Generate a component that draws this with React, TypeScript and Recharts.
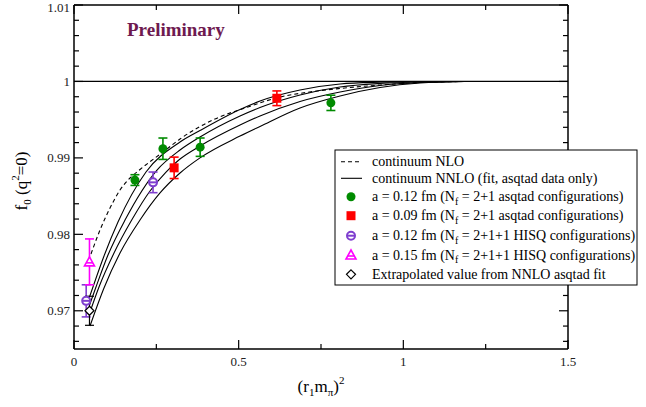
import React from "react";
import {
  ComposedChart,
  Line,
  Scatter,
  ErrorBar,
  XAxis,
  YAxis,
  ReferenceLine,
} from "recharts";

// tick values
const X_TICKS = [0, 0.5, 1, 1.5];
const X_MINOR = [0.25, 0.75, 1.25];
const Y_TICKS = [0.97, 0.98, 0.99, 1, 1.01];
const Y_MINOR = [
  0.966, 0.968, 0.972, 0.974, 0.976, 0.978, 0.982, 0.984, 0.986, 0.988, 0.992,
  0.994, 0.996, 0.998, 1.002, 1.004, 1.006, 1.008,
];

// continuum NLO (dashed)
const nloX = [0.0516, 0.079, 0.1093, 0.1397, 0.1701, 0.2004, 0.2703, 0.3219, 0.4282, 0.5284, 0.6195, 0.7258, 0.8078, 0.9293, 1.0507, 1.1874];
const nloY = [0.97743, 0.98057, 0.98344, 0.9858, 0.98737, 0.98848, 0.99077, 0.99247, 0.99509, 0.99666, 0.9979, 0.99868, 0.99908, 0.99953, 0.99986, 1.0];

// continuum NNLO fit curves (solid)
const nnloAX = [0.0471, 0.0607, 0.0911, 0.1336, 0.2186, 0.3219, 0.3826, 0.5041, 0.5648, 0.6863, 0.8078, 0.9293, 1.0507, 1.1874];
const nnloAY = [0.9718, 0.9735, 0.97716, 0.98161, 0.98815, 0.99208, 0.99358, 0.99633, 0.99744, 0.99888, 0.99967, 0.9999, 0.99998, 1.0];
const nnloBX = [0.0471, 0.0668, 0.1032, 0.1549, 0.252, 0.3219, 0.3826, 0.5041, 0.5648, 0.6863, 0.8078, 0.9293, 1.0507, 1.1874];
const nnloBY = [0.97075, 0.97311, 0.97729, 0.98187, 0.98841, 0.99103, 0.99273, 0.99548, 0.99659, 0.99823, 0.99927, 0.99973, 0.99993, 1.0];
const nnloCX = [0.0486, 0.0759, 0.1215, 0.1752, 0.2308, 0.2794, 0.3219, 0.3826, 0.5041, 0.5648, 0.6863, 0.8078, 0.9293, 1.0507, 1.1874];
const nnloCY = [0.96984, 0.97311, 0.97756, 0.98187, 0.98567, 0.98815, 0.98985, 0.99155, 0.9943, 0.99548, 0.99738, 0.99862, 0.99947, 0.99986, 1.0];
const nnloDX = [0.0486, 0.0911, 0.1397, 0.2004, 0.2612, 0.3219, 0.3826, 0.5041, 0.5648, 0.6863, 0.8078, 0.9293, 1.0507, 1.1874];
const nnloDY = [0.96801, 0.97298, 0.97756, 0.98187, 0.98541, 0.98802, 0.99, 0.99285, 0.99411, 0.99653, 0.9981, 0.99921, 0.9998, 1.0];

// data points
const asq12X = [0.185, 0.27, 0.383, 0.78];
const asq12Y = [0.9871, 0.9912, 0.9914, 0.9972];
const asq12Err = [0.0007, 0.0014, 0.0012, 0.001];
const asq09X = [0.304, 0.616];
const asq09Y = [0.9887, 0.9978];
const asq09Err = [0.0014, 0.00096];
const hisq12X = [0.037, 0.24];
const hisq12Y = [0.9713, 0.9868];
const hisq12Err = [0.0021, 0.00135];
const hisq15X = [0.047];
const hisq15Y = [0.9764];
const hisq15Err = [0.003];
const extrapX = [0.047];
const extrapY = [0.97];
const extrapErr = [0.0019];

const curve = (xs: number[], ys: number[]) => xs.map((x, i) => ({ x, y: ys[i] }));
const pts = (xs: number[], ys: number[], es: number[]) =>
  xs.map((x, i) => ({ x, y: ys[i], err: es[i] }));

const W = 646;
const H = 407;
const FONT = "'Liberation Serif', 'Times New Roman', serif";

const GREEN = "#008b00";
const RED = "#ff0000";
const PURPLE = "#7f3fcf";
const MAGENTA = "#ff00ff";

const isMajor = (list: number[], v: number) => list.some((t) => Math.abs(t - v) < 1e-9);

const BottomTick = (p: any) => {
  const major = isMajor(X_TICKS, p.payload.value);
  return (
    <g>
      <line x1={p.x} x2={p.x} y1={p.y} y2={p.y - (major ? 9 : 5)} stroke="#000" strokeWidth={1.2} />
      {major && (
        <text x={p.x} y={p.y + 16.5} textAnchor="middle" fontSize={13} fontFamily={FONT} fill="#222">
          {String(p.payload.value)}
        </text>
      )}
    </g>
  );
};
const TopTick = (p: any) => {
  const major = isMajor(X_TICKS, p.payload.value);
  return <line x1={p.x} x2={p.x} y1={p.y} y2={p.y + (major ? 9 : 5)} stroke="#000" strokeWidth={1.2} />;
};
const LeftTick = (p: any) => {
  const major = isMajor(Y_TICKS, p.payload.value);
  return (
    <g>
      <line x1={p.x} x2={p.x + (major ? 9 : 5)} y1={p.y} y2={p.y} stroke="#000" strokeWidth={1.2} />
      {major && (
        <text x={p.x - 4} y={Math.max(p.y + 4.5, 12)} textAnchor="end" fontSize={13} fontFamily={FONT} fill="#222">
          {String(p.payload.value)}
        </text>
      )}
    </g>
  );
};
const RightTick = (p: any) => {
  const major = isMajor(Y_TICKS, p.payload.value);
  return <line x1={p.x} x2={p.x - (major ? 9 : 5)} y1={p.y} y2={p.y} stroke="#000" strokeWidth={1.2} />;
};

const Dot = (p: any) => <circle cx={p.cx} cy={p.cy} r={4.5} fill={GREEN} />;
const Square = (p: any) => <rect x={p.cx - 4.5} y={p.cy - 4.5} width={9} height={9} fill={RED} />;
const Theta = (p: any) => (
  <g>
    <circle cx={p.cx} cy={p.cy} r={4} fill="#fff" stroke={PURPLE} strokeWidth={2} />
    <line x1={p.cx - 4} x2={p.cx + 4} y1={p.cy} y2={p.cy} stroke={PURPLE} strokeWidth={2} />
  </g>
);
const Tri = (p: any) => (
  <g>
    <path d={`M${p.cx},${p.cy - 5} L${p.cx + 5},${p.cy + 4} L${p.cx - 5},${p.cy + 4} Z`} fill="#fff" stroke={MAGENTA} strokeWidth={1.6} />
    <line x1={p.cx - 3.5} x2={p.cx + 3.5} y1={p.cy + 1} y2={p.cy + 1} stroke={MAGENTA} strokeWidth={1.6} />
  </g>
);
const Diamond = (p: any) => (
  <path d={`M${p.cx},${p.cy - 4.5} L${p.cx + 4.5},${p.cy} L${p.cx},${p.cy + 4.5} L${p.cx - 4.5},${p.cy} Z`} fill="#fff" stroke="#000" strokeWidth={1.2} />
);

const Sub = ({ children }: { children: React.ReactNode }) => (
  <>
    <tspan dy={3.5} fontSize={10}>{children}</tspan>
    <tspan dy={-3.5}> </tspan>
  </>
);

export default function App() {
  const legendRows: { y: number; sym: (cx: number, cy: number) => React.ReactNode; text: React.ReactNode }[] = [
    { y: 161.7, sym: (cx, cy) => <line x1={cx - 10} x2={cx + 11} y1={cy} y2={cy} stroke="#000" strokeWidth={1.1} strokeDasharray="4 3" />, text: "continuum NLO" },
    { y: 178.3, sym: (cx, cy) => <line x1={cx - 10} x2={cx + 11} y1={cy} y2={cy} stroke="#000" strokeWidth={1.1} />, text: "continuum NNLO (fit, asqtad data only)" },
    { y: 196.7, sym: (cx, cy) => <Dot cx={cx} cy={cy} />, text: <>a = 0.12 fm (N<Sub>f</Sub>= 2+1 asqtad configurations)</> },
    { y: 215.7, sym: (cx, cy) => <Square cx={cx} cy={cy} />, text: <>a = 0.09 fm (N<Sub>f</Sub>= 2+1 asqtad configurations)</> },
    { y: 235.7, sym: (cx, cy) => <Theta cx={cx} cy={cy} />, text: <>a = 0.12 fm (N<Sub>f</Sub>= 2+1+1 HISQ configurations)</> },
    { y: 255, sym: (cx, cy) => <Tri cx={cx} cy={cy} />, text: <>a = 0.15 fm (N<Sub>f</Sub>= 2+1+1 HISQ configurations)</> },
    { y: 274.3, sym: (cx, cy) => <Diamond cx={cx} cy={cy} />, text: "Extrapolated value from NNLO asqtad fit" },
  ];

  return (
    <div style={{ position: "absolute", left: 0, top: 0, width: W, height: H, background: "#fff" }}>
      <ComposedChart width={W} height={H} margin={{ top: 4, right: 77, bottom: 0, left: 0 }}>
        <XAxis xAxisId="t" orientation="top" type="number" dataKey="x" domain={[0, 1.5]} allowDataOverflow
          ticks={[...X_TICKS, ...X_MINOR]} interval={0} height={1} tickSize={0} tickMargin={0} tickLine={false}
          tick={TopTick} axisLine={{ stroke: "#000", strokeWidth: 1.5 }} />
        <XAxis xAxisId="b" orientation="bottom" type="number" dataKey="x" domain={[0, 1.5]} allowDataOverflow
          ticks={[...X_TICKS, ...X_MINOR]} interval={0} height={58} tickSize={0} tickMargin={0} tickLine={false}
          tick={BottomTick} axisLine={{ stroke: "#000", strokeWidth: 1.5 }} />
        <YAxis yAxisId="l" orientation="left" type="number" dataKey="y" domain={[0.965, 1.01]} allowDataOverflow
          ticks={[...Y_TICKS, ...Y_MINOR]} interval={0} width={74} tickSize={0} tickMargin={0} tickLine={false}
          tick={LeftTick} axisLine={{ stroke: "#000", strokeWidth: 1.5 }} />
        <YAxis yAxisId="r" orientation="right" type="number" dataKey="y" domain={[0.965, 1.01]} allowDataOverflow
          ticks={[...Y_TICKS, ...Y_MINOR]} interval={0} width={1} tickSize={0} tickMargin={0} tickLine={false}
          tick={RightTick} axisLine={{ stroke: "#000", strokeWidth: 1.5 }} />

        <ReferenceLine xAxisId="b" yAxisId="l" y={1} stroke="#000" strokeWidth={1.2} />

        {/* ties the frame axes (top/right) to a series so they get drawn */}
        <Line xAxisId="t" yAxisId="r" data={curve(nloX, nloY)} dataKey="y" stroke="none" dot={false} legendType="none" isAnimationActive={false} />

        <Line xAxisId="b" yAxisId="l" data={curve(nloX, nloY)} dataKey="y" type="monotone" stroke="#000" strokeWidth={1.1} strokeDasharray="4 3" dot={false} isAnimationActive={false} />
        <Line xAxisId="b" yAxisId="l" data={curve(nnloAX, nnloAY)} dataKey="y" type="monotone" stroke="#000" strokeWidth={1.1} dot={false} isAnimationActive={false} />
        <Line xAxisId="b" yAxisId="l" data={curve(nnloBX, nnloBY)} dataKey="y" type="monotone" stroke="#000" strokeWidth={1.1} dot={false} isAnimationActive={false} />
        <Line xAxisId="b" yAxisId="l" data={curve(nnloCX, nnloCY)} dataKey="y" type="monotone" stroke="#000" strokeWidth={1.1} dot={false} isAnimationActive={false} />
        <Line xAxisId="b" yAxisId="l" data={curve(nnloDX, nnloDY)} dataKey="y" type="monotone" stroke="#000" strokeWidth={1.1} dot={false} isAnimationActive={false} />

        <Scatter xAxisId="b" yAxisId="l" data={pts(asq12X, asq12Y, asq12Err)} dataKey="y" shape={Dot} isAnimationActive={false}>
          <ErrorBar dataKey="err" direction="y" width={4.5} stroke={GREEN} strokeWidth={1.6} />
        </Scatter>
        <Scatter xAxisId="b" yAxisId="l" data={pts(asq09X, asq09Y, asq09Err)} dataKey="y" shape={Square} isAnimationActive={false}>
          <ErrorBar dataKey="err" direction="y" width={4.5} stroke={RED} strokeWidth={1.6} />
        </Scatter>
        <Scatter xAxisId="b" yAxisId="l" data={pts(hisq12X, hisq12Y, hisq12Err)} dataKey="y" shape={Theta} isAnimationActive={false}>
          <ErrorBar dataKey="err" direction="y" width={4.5} stroke={PURPLE} strokeWidth={1.6} />
        </Scatter>
        <Scatter xAxisId="b" yAxisId="l" data={pts(hisq15X, hisq15Y, hisq15Err)} dataKey="y" shape={Tri} isAnimationActive={false}>
          <ErrorBar dataKey="err" direction="y" width={4.5} stroke={MAGENTA} strokeWidth={1.6} />
        </Scatter>
        <Scatter xAxisId="b" yAxisId="l" data={pts(extrapX, extrapY, extrapErr)} dataKey="y" shape={Diamond} isAnimationActive={false}>
          <ErrorBar dataKey="err" direction="y" width={4.5} stroke="#000" strokeWidth={1.2} />
        </Scatter>
      </ComposedChart>

      <svg width={W} height={H} style={{ position: "absolute", left: 0, top: 0, pointerEvents: "none" }} fontFamily={FONT}>
        <text x={127} y={36} fontSize={19} fontWeight="bold" fill="#6e1a50">Preliminary</text>

        <text x={321} y={392} fontSize={17} textAnchor="middle" fill="#000">
          (r<tspan dy={4} fontSize={11}>1</tspan><tspan dy={-4}>m</tspan><tspan dy={4} fontSize={11}>π</tspan><tspan dy={-4}>)</tspan><tspan dy={-8} fontSize={11}>2</tspan>
        </text>

        <text transform="translate(27,181) rotate(-90)" x={0} y={0} fontSize={17} textAnchor="middle" fill="#000">
          f<tspan dy={4} fontSize={11}>0</tspan><tspan dy={-4}> (q</tspan><tspan dy={-8} fontSize={11}>2</tspan><tspan dy={8}>=0)</tspan>
        </text>

        <rect x={335} y={150} width={302} height={135} fill="#fff" stroke="#000" strokeWidth={1} />
        {legendRows.map((r, i) => (
          <g key={i}>
            {r.sym(351, r.y)}
            <text x={372} y={r.y + 4.5} fontSize={14} fill="#000">{r.text}</text>
          </g>
        ))}
      </svg>
    </div>
  );
}
